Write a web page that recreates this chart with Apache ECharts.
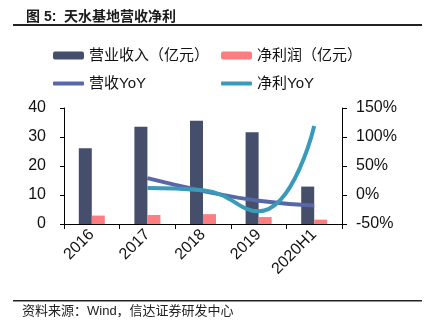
<!DOCTYPE html>
<html>
<head>
<meta charset="utf-8">
<script src="https://cdn.jsdelivr.net/npm/echarts@6/dist/echarts.min.js"></script>
<style>html,body{margin:0;padding:0;background:#fff}#c{width:432px;height:332px}</style>
</head>
<body>
<div id="c"></div>
<script>
const categories = ['2016', '2017', '2018', '2019', '2020H1'];
const revenue = [26.1, 33.5, 35.6, 31.6, 12.9];
const netProfit = [2.9, 3.1, 3.4, 2.4, 1.5];
const revenueYoY = [null, 29, 7, -10, -18];
const profitYoY = [null, 12, 8, -28, 119];
const leftTicks = { min: 0, max: 40, interval: 10 };
const rightTicks = { min: -50, max: 150, interval: 50 };

const FONT = '"Liberation Sans", "Noto Sans CJK SC", sans-serif';
const chart = echarts.init(document.getElementById('c'), null, { renderer: 'canvas' });
const legendText = { fontFamily: FONT, fontSize: 15, color: '#111' };
chart.setOption({
  animation: false,
  title: {
    text: '图 5:  天水基地营收净利',
    left: 21, top: 5,
    textStyle: { fontFamily: FONT, fontSize: 14, fontWeight: 'bold', color: '#1a1a1a' }
  },
  graphic: [
    { type: 'rect', shape: { x: 13, y: 24, width: 409, height: 2 }, style: { fill: '#222' } },
    { type: 'rect', shape: { x: 13, y: 300, width: 409, height: 1.5 }, style: { fill: '#222' } },
    { type: 'text', left: 22, top: 305, style: { text: '资料来源：Wind，信达证券研发中心', font: '13px ' + FONT, fill: '#222' } }
  ],
  legend: [
    { data: ['营业收入（亿元）'], left: 48, top: 43, itemWidth: 31, itemHeight: 8, textStyle: legendText },
    { data: ['净利润（亿元）'], left: 216, top: 43, itemWidth: 31, itemHeight: 8, textStyle: legendText },
    { data: [{ name: '营收YoY', icon: 'roundRect' }], left: 48, top: 71, itemWidth: 31, itemHeight: 4, textStyle: legendText },
    { data: [{ name: '净利YoY', icon: 'roundRect' }], left: 216, top: 71, itemWidth: 31, itemHeight: 4, textStyle: legendText }
  ],
  grid: { left: 64, right: 90, top: 108, bottom: 108 },
  xAxis: {
    type: 'category', data: categories,
    axisLine: { lineStyle: { color: '#000', width: 1 } },
    axisTick: { show: true, length: 5, lineStyle: { color: '#000' } },
    axisLabel: { rotate: 45, fontFamily: FONT, fontSize: 16, color: '#111', margin: 8 }
  },
  yAxis: [
    {
      type: 'value', min: leftTicks.min, max: leftTicks.max, interval: leftTicks.interval,
      splitLine: { show: false },
      axisLine: { show: true, lineStyle: { color: '#000' } },
      axisTick: { show: true, length: 4, lineStyle: { color: '#000' } },
      axisLabel: { fontFamily: FONT, fontSize: 16, color: '#111', margin: 18 }
    },
    {
      type: 'value', min: rightTicks.min, max: rightTicks.max, interval: rightTicks.interval,
      splitLine: { show: false },
      axisLine: { show: true, lineStyle: { color: '#000' } },
      axisTick: { show: true, length: 5, lineStyle: { color: '#000' } },
      axisLabel: { fontFamily: FONT, fontSize: 16, color: '#111', margin: 14, formatter: '{value}%' }
    }
  ],
  series: [
    { name: '营业收入（亿元）', type: 'bar', data: revenue, barWidth: 13, barGap: '0%',
      itemStyle: { color: '#454e6b' } },
    { name: '净利润（亿元）', type: 'bar', data: netProfit, barWidth: 13, barGap: '0%',
      itemStyle: { color: '#ff7c80' } },
    { name: '营收YoY', type: 'line', yAxisIndex: 1, data: revenueYoY, smooth: true, showSymbol: false, symbol: 'none',
      lineStyle: { color: '#5767a8', width: 4 }, itemStyle: { color: '#5767a8' } },
    { name: '净利YoY', type: 'line', yAxisIndex: 1, data: profitYoY, smooth: true, showSymbol: false, symbol: 'none',
      lineStyle: { color: '#3a9bb8', width: 4 }, itemStyle: { color: '#3a9bb8' } }
  ]
});
</script>
</body>
</html>
